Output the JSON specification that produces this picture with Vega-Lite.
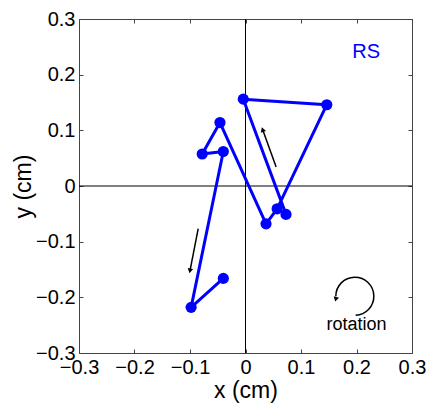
{
  "$schema": "https://vega.github.io/schema/vega-lite/v6.json",
  "width": 333,
  "height": 334,
  "autosize": "none",
  "padding": {"left": 79, "top": 19, "right": 18, "bottom": 52},
  "background": "white",
  "config": {
    "view": {"stroke": "#444", "strokeWidth": 1},
    "axis": {
      "grid": false,
      "domain": false,
      "labelFont": "Liberation Sans",
      "labelFontSize": 20,
      "labelColor": "#000",
      "labelOverlap": false,
      "labelFlush": false,
      "titleFont": "Liberation Sans",
      "titleFontSize": 23,
      "titleFontWeight": "normal",
      "titleColor": "#000",
      "tickColor": "#444",
      "tickSize": -4,
      "tickWidth": 1,
      "format": ".1~f"
    }
  },
  "datasets": {
    "path": [
      {"i": 1, "x": 0.073, "y": -0.051},
      {"i": 2, "x": -0.004, "y": 0.156},
      {"i": 3, "x": 0.1465, "y": 0.146},
      {"i": 4, "x": 0.057, "y": -0.041},
      {"i": 5, "x": 0.037, "y": -0.068},
      {"i": 6, "x": -0.046, "y": 0.114},
      {"i": 7, "x": -0.078, "y": 0.0575},
      {"i": 8, "x": -0.04, "y": 0.062},
      {"i": 9, "x": -0.098, "y": -0.218},
      {"i": 10, "x": -0.04, "y": -0.166}
    ],
    "arrows": [
      {"x": 0.0552, "y": 0.034, "x2": 0.0313, "y2": 0.1},
      {"x": -0.0852, "y": -0.0765, "x2": -0.0998, "y2": -0.151}
    ]
  },
  "layer": [
    {
      "data": {"values": [{"v": 0}]},
      "mark": {"type": "rule", "color": "#000", "strokeWidth": 1},
      "encoding": {"x": {"field": "v", "type": "quantitative", "axis": null}}
    },
    {
      "data": {"values": [{"v": 0}]},
      "mark": {"type": "rule", "color": "#000", "strokeWidth": 1},
      "encoding": {"y": {"field": "v", "type": "quantitative", "axis": null}}
    },
    {
      "data": {"name": "path"},
      "mark": {"type": "line", "color": "#0000ff", "strokeWidth": 3, "strokeJoin": "round"},
      "encoding": {
        "x": {"field": "x", "type": "quantitative", "scale": {"domain": [-0.3, 0.3], "nice": false, "zero": false}, "axis": {"title": "x (cm)", "values": [-0.3, -0.2, -0.1, 0, 0.1, 0.2, 0.3], "labelPadding": 8, "titlePadding": 2}},
        "y": {"field": "y", "type": "quantitative", "scale": {"domain": [-0.3, 0.3], "nice": false, "zero": false}, "axis": {"title": "y (cm)", "values": [-0.3, -0.2, -0.1, 0, 0.1, 0.2, 0.3], "labelPadding": 8, "titlePadding": 0}},
        "order": {"field": "i"}
      }
    },
    {
      "data": {"name": "path"},
      "mark": {"type": "point", "filled": true, "color": "#0000ff", "size": 125, "opacity": 1},
      "encoding": {
        "x": {"field": "x", "type": "quantitative", "axis": {"orient": "top", "values": [-0.3, -0.2, -0.1, 0, 0.1, 0.2, 0.3], "labels": false, "title": null}},
        "y": {"field": "y", "type": "quantitative", "axis": {"orient": "right", "values": [-0.3, -0.2, -0.1, 0, 0.1, 0.2, 0.3], "labels": false, "title": null}}
      }
    },
    {
      "data": {"name": "arrows"},
      "mark": {"type": "rule", "color": "#000", "strokeWidth": 1.5},
      "encoding": {
        "x": {"field": "x", "type": "quantitative", "axis": null},
        "y": {"field": "y", "type": "quantitative", "axis": null},
        "x2": {"field": "x2"},
        "y2": {"field": "y2"}
      }
    },
    {
      "data": {"values": [{"x": 0.0313, "y": 0.1}]},
      "mark": {"type": "point", "shape": "triangle", "filled": true, "color": "#000", "size": 30, "angle": 341, "opacity": 1},
      "encoding": {
        "x": {"field": "x", "type": "quantitative", "axis": null},
        "y": {"field": "y", "type": "quantitative", "axis": null}
      }
    },
    {
      "data": {"values": [{"x": -0.0998, "y": -0.151}]},
      "mark": {"type": "point", "shape": "triangle", "filled": true, "color": "#000", "size": 30, "angle": 191, "opacity": 1},
      "encoding": {
        "x": {"field": "x", "type": "quantitative", "axis": null},
        "y": {"field": "y", "type": "quantitative", "axis": null}
      }
    },
    {
      "data": {"values": [{"x": 0.197, "y": -0.198}]},
      "mark": {"type": "arc", "radius": 19, "radius2": 19, "theta": -1.5708, "theta2": 3.1, "filled": false, "stroke": "#000", "strokeWidth": 1.5},
      "encoding": {
        "x": {"field": "x", "type": "quantitative", "axis": null},
        "y": {"field": "y", "type": "quantitative", "axis": null}
      }
    },
    {
      "data": {"values": [{"x": 0.163, "y": -0.202}]},
      "mark": {"type": "point", "shape": "triangle", "filled": true, "color": "#000", "size": 30, "angle": 195, "opacity": 1},
      "encoding": {
        "x": {"field": "x", "type": "quantitative", "axis": null},
        "y": {"field": "y", "type": "quantitative", "axis": null}
      }
    },
    {
      "data": {"values": [{"x": 0.2, "y": -0.25, "t": "rotation"}]},
      "mark": {"type": "text", "font": "Liberation Sans", "fontSize": 18, "color": "#000"},
      "encoding": {
        "x": {"field": "x", "type": "quantitative", "axis": null},
        "y": {"field": "y", "type": "quantitative", "axis": null},
        "text": {"field": "t"}
      }
    },
    {
      "data": {"values": [{"x": 0.2175, "y": 0.241, "t": "RS"}]},
      "mark": {"type": "text", "font": "Liberation Sans", "fontSize": 20, "color": "#0000ff"},
      "encoding": {
        "x": {"field": "x", "type": "quantitative", "axis": null},
        "y": {"field": "y", "type": "quantitative", "axis": null},
        "text": {"field": "t"}
      }
    }
  ],
  "resolve": {"axis": {"x": "independent", "y": "independent"}}
}
